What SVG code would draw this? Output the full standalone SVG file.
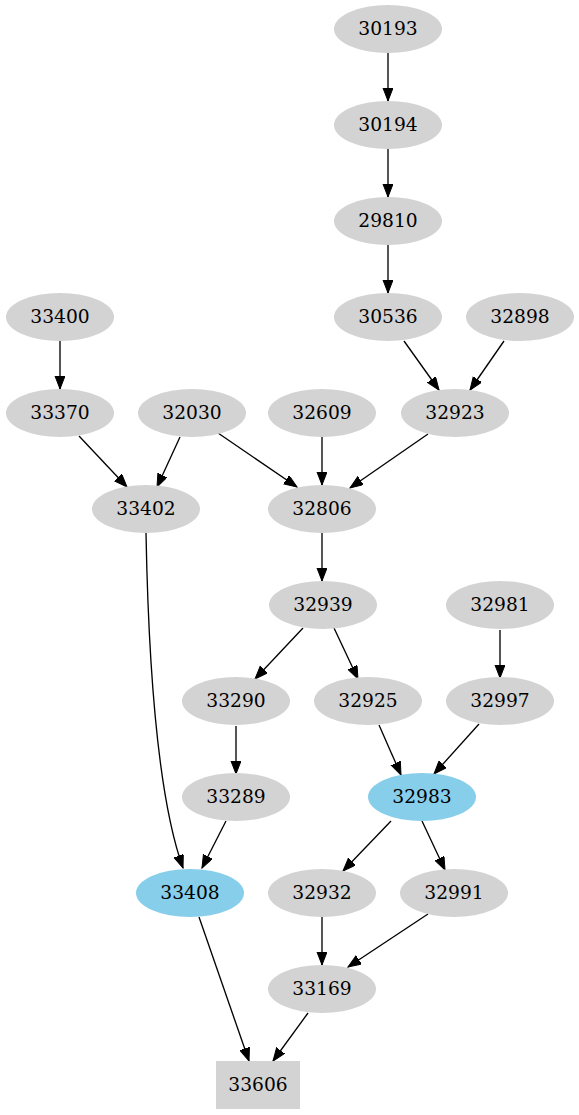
<svg xmlns="http://www.w3.org/2000/svg" width="579" height="1115" viewBox="0 0 579 1115">
<style>
.n ellipse{fill:#d3d3d3;stroke:none}
.n.b ellipse{fill:#87ceeb}
.n rect{fill:#d3d3d3;stroke:none}
.n text{font-family:"DejaVu Serif",serif;font-size:18.67px;text-anchor:middle;fill:#000}
#edges path{fill:none;stroke:#000;stroke-width:1.33;marker-end:url(#arr)}
</style>
<defs>
<marker id="arr" markerUnits="userSpaceOnUse" markerWidth="14" markerHeight="11" refX="13" refY="5" orient="auto">
<path d="M0,0 L13,5 L0,10 z" fill="#000" stroke="#000" stroke-width="1"/>
</marker>
</defs>
<rect width="579" height="1115" fill="#fff"/>
<g id="edges">
<path d="M388,53 L388,101"/>
<path d="M388,149 L388,197"/>
<path d="M388,245 L388,293"/>
<path d="M404,341 L439,390"/>
<path d="M504,341 L470,390"/>
<path d="M60,341 L60,389"/>
<path d="M79,436 L127,487"/>
<path d="M180,437 L157,487"/>
<path d="M218,433 L297,487"/>
<path d="M322,437 L322,485"/>
<path d="M428,434 L350,488"/>
<path d="M322,533 L322,581"/>
<path d="M303,628 L255,679"/>
<path d="M334,628 L358,679"/>
<path d="M500,630 L500,678"/>
<path d="M236,726 L236,774"/>
<path d="M379,725 L401,775"/>
<path d="M479,724 L434,774"/>
<path d="M226,821 L202,868"/>
<path d="M146,533 C148,640 155,790 183,868"/>
<path d="M391,821 L343,871"/>
<path d="M422,821 L445,870"/>
<path d="M322,917 L322,965"/>
<path d="M428,914 L348,967"/>
<path d="M308,1013 L273,1061"/>
<path d="M199,917 L249,1061"/>
</g>
<g id="n30193" class="n"><ellipse cx="388" cy="29" rx="54" ry="24"/><text x="388" y="35">30193</text></g>
<g id="n30194" class="n"><ellipse cx="388" cy="125" rx="54" ry="24"/><text x="388" y="131">30194</text></g>
<g id="n29810" class="n"><ellipse cx="388" cy="221" rx="54" ry="24"/><text x="388" y="227">29810</text></g>
<g id="n30536" class="n"><ellipse cx="388" cy="317" rx="54" ry="24"/><text x="388" y="323">30536</text></g>
<g id="n32898" class="n"><ellipse cx="520" cy="317" rx="54" ry="24"/><text x="520" y="323">32898</text></g>
<g id="n33400" class="n"><ellipse cx="60" cy="317" rx="54" ry="24"/><text x="60" y="323">33400</text></g>
<g id="n33370" class="n"><ellipse cx="60" cy="413" rx="54" ry="24"/><text x="60" y="419">33370</text></g>
<g id="n32030" class="n"><ellipse cx="192" cy="413" rx="54" ry="24"/><text x="192" y="419">32030</text></g>
<g id="n32609" class="n"><ellipse cx="322" cy="413" rx="54" ry="24"/><text x="322" y="419">32609</text></g>
<g id="n32923" class="n"><ellipse cx="455" cy="413" rx="54" ry="24"/><text x="455" y="419">32923</text></g>
<g id="n33402" class="n"><ellipse cx="146" cy="509" rx="54" ry="24"/><text x="146" y="515">33402</text></g>
<g id="n32806" class="n"><ellipse cx="322" cy="509" rx="54" ry="24"/><text x="322" y="515">32806</text></g>
<g id="n32939" class="n"><ellipse cx="323" cy="605" rx="54" ry="24"/><text x="323" y="611">32939</text></g>
<g id="n32981" class="n"><ellipse cx="500" cy="605" rx="54" ry="24"/><text x="500" y="611">32981</text></g>
<g id="n33290" class="n"><ellipse cx="236" cy="701" rx="54" ry="24"/><text x="236" y="707">33290</text></g>
<g id="n32925" class="n"><ellipse cx="368" cy="701" rx="54" ry="24"/><text x="368" y="707">32925</text></g>
<g id="n32997" class="n"><ellipse cx="500" cy="701" rx="54" ry="24"/><text x="500" y="707">32997</text></g>
<g id="n33289" class="n"><ellipse cx="236" cy="797" rx="54" ry="24"/><text x="236" y="803">33289</text></g>
<g id="n32983" class="n b"><ellipse cx="422" cy="797" rx="54" ry="24"/><text x="422" y="803">32983</text></g>
<g id="n33408" class="n b"><ellipse cx="190" cy="893" rx="54" ry="24"/><text x="190" y="899">33408</text></g>
<g id="n32932" class="n"><ellipse cx="322" cy="893" rx="54" ry="24"/><text x="322" y="899">32932</text></g>
<g id="n32991" class="n"><ellipse cx="454" cy="893" rx="54" ry="24"/><text x="454" y="899">32991</text></g>
<g id="n33169" class="n"><ellipse cx="322" cy="989" rx="54" ry="24"/><text x="322" y="995">33169</text></g>
<g id="n33606" class="n"><rect x="216" y="1061" width="84" height="48"/><text x="258" y="1091">33606</text></g>
</svg>
